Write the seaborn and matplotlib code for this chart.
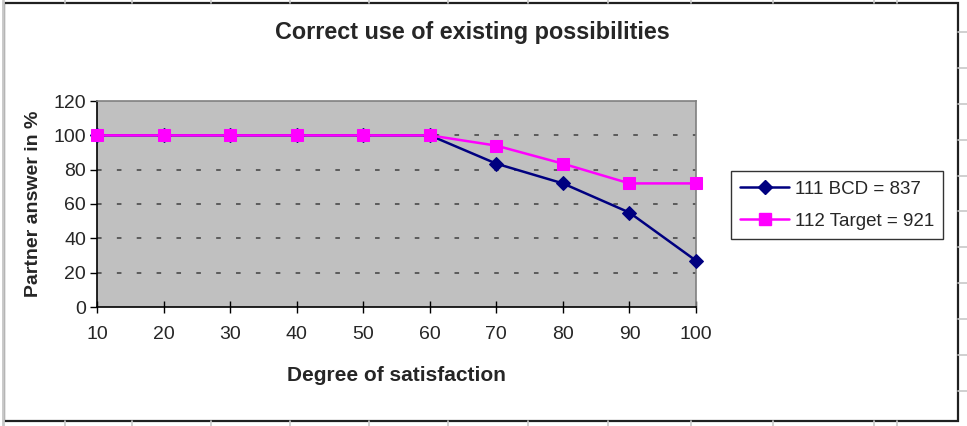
import matplotlib
matplotlib.use("Agg")
import matplotlib.pyplot as plt
from matplotlib.patches import Rectangle
from matplotlib.lines import Line2D
import seaborn as sns
import pandas as pd

# Chart data
satisfaction = [10, 20, 30, 40, 50, 60, 70, 80, 90, 100]
bcd_values = [100, 100, 100, 100, 100, 100, 83.5, 72, 55, 27]
target_values = [100, 100, 100, 100, 100, 100, 94, 83.5, 72, 72]
series_names = ["111 BCD = 837", "112 Target = 921"]
y_ticks = [0, 20, 40, 60, 80, 100, 120]

sns.set_theme(style="white")
plt.rcParams["font.family"] = ["Liberation Sans", "DejaVu Sans"]

df = pd.DataFrame({
    "x": satisfaction * 2,
    "y": bcd_values + target_values,
    "series": [series_names[0]] * len(satisfaction) + [series_names[1]] * len(satisfaction),
})

fig = plt.figure(figsize=(9.67, 4.26), dpi=100)
fig.patch.set_facecolor("white")
ax = fig.add_axes([97 / 967, 1 - 307 / 426, (696 - 97) / 967, (307 - 101) / 426])
ax.set_facecolor("#C0C0C0")

palette = {series_names[0]: "#000080", series_names[1]: "#FF00FF"}
markers = {series_names[0]: "D", series_names[1]: "s"}
sizes = {series_names[0]: 7, series_names[1]: 8.5}
layer = {series_names[0]: 4, series_names[1]: 5}

for name in series_names:
    sub = df[df["series"] == name]
    sns.lineplot(data=sub, x="x", y="y", ax=ax, color=palette[name],
                 marker=markers[name], markersize=sizes[name],
                 markeredgecolor=palette[name], linewidth=1.8,
                 clip_on=False, zorder=layer[name], legend=False)

ax.set_xlim(10, 100)
ax.set_ylim(0, 120)
ax.set_xticks(satisfaction)
ax.set_yticks(y_ticks)
ax.tick_params(axis="x", direction="inout", length=8, width=1, color="black",
               labelsize=14, pad=10)
ax.tick_params(axis="y", direction="out", length=5, width=1, color="black",
               labelsize=14, pad=3)
ax.tick_params(bottom=True, left=True)

for y in y_ticks[1:-1]:
    ax.axhline(y, color="#404040", linestyle=(0, (3, 10)), linewidth=1.1, zorder=1)

ax.spines["left"].set_color("black")
ax.spines["bottom"].set_color("black")
ax.spines["left"].set_linewidth(1.2)
ax.spines["bottom"].set_linewidth(1.2)
ax.spines["top"].set_color("#808080")
ax.spines["right"].set_color("#808080")
ax.spines["top"].set_linewidth(1.2)
ax.spines["right"].set_linewidth(1.2)

ax.set_xlabel("Degree of satisfaction", fontsize=15, fontweight="bold", labelpad=16)
ax.set_ylabel("Partner answer in %", fontsize=14, fontweight="bold", labelpad=8)

fig.text(472 / 967, 1 - 32 / 426, "Correct use of existing possibilities",
         ha="center", va="center", fontsize=16.8, fontweight="bold")

handles = [
    Line2D([], [], color=palette[n], marker=markers[n], markersize=sizes[n],
           markeredgecolor=palette[n], linewidth=1.8)
    for n in series_names
]
leg = fig.legend(handles, series_names, loc="upper left",
                 bbox_to_anchor=(731 / 967, 1 - 171 / 426),
                 frameon=True, fancybox=False, shadow=False,
                 fontsize=13.5, handlelength=2.6, handletextpad=0.3,
                 borderpad=0.5, labelspacing=0.8, borderaxespad=0)
leg.get_frame().set_edgecolor("black")
leg.get_frame().set_linewidth(1.0)

# Surrounding worksheet cells and the chart frame
for xs in [65, 132, 211, 290, 369, 448, 528, 608, 691, 773, 874, 897]:
    fig.add_artist(Line2D([xs / 967, xs / 967], [1 - 0 / 426, 1 - 3 / 426],
                          color="#C8C8C8", linewidth=1.2))
    fig.add_artist(Line2D([xs / 967, xs / 967], [0, 1 - 421 / 426],
                          color="#C8C8C8", linewidth=1.2))
for ys in [32, 68, 104, 140, 176, 211, 247, 283, 319, 355, 391]:
    fig.add_artist(Line2D([958 / 967, 1], [1 - ys / 426, 1 - ys / 426],
                          color="#C8C8C8", linewidth=1.2))
fig.add_artist(Line2D([3 / 967, 3 / 967], [0, 1], color="#C8C8C8", linewidth=2.0))
fig.add_artist(Rectangle((4 / 967, 1 - 421 / 426), (958 - 4) / 967, (421 - 2.5) / 426,
                         fill=False, edgecolor="#202020", linewidth=1.6,
                         transform=fig.transFigure))

fig.savefig("out.png", dpi=100)
